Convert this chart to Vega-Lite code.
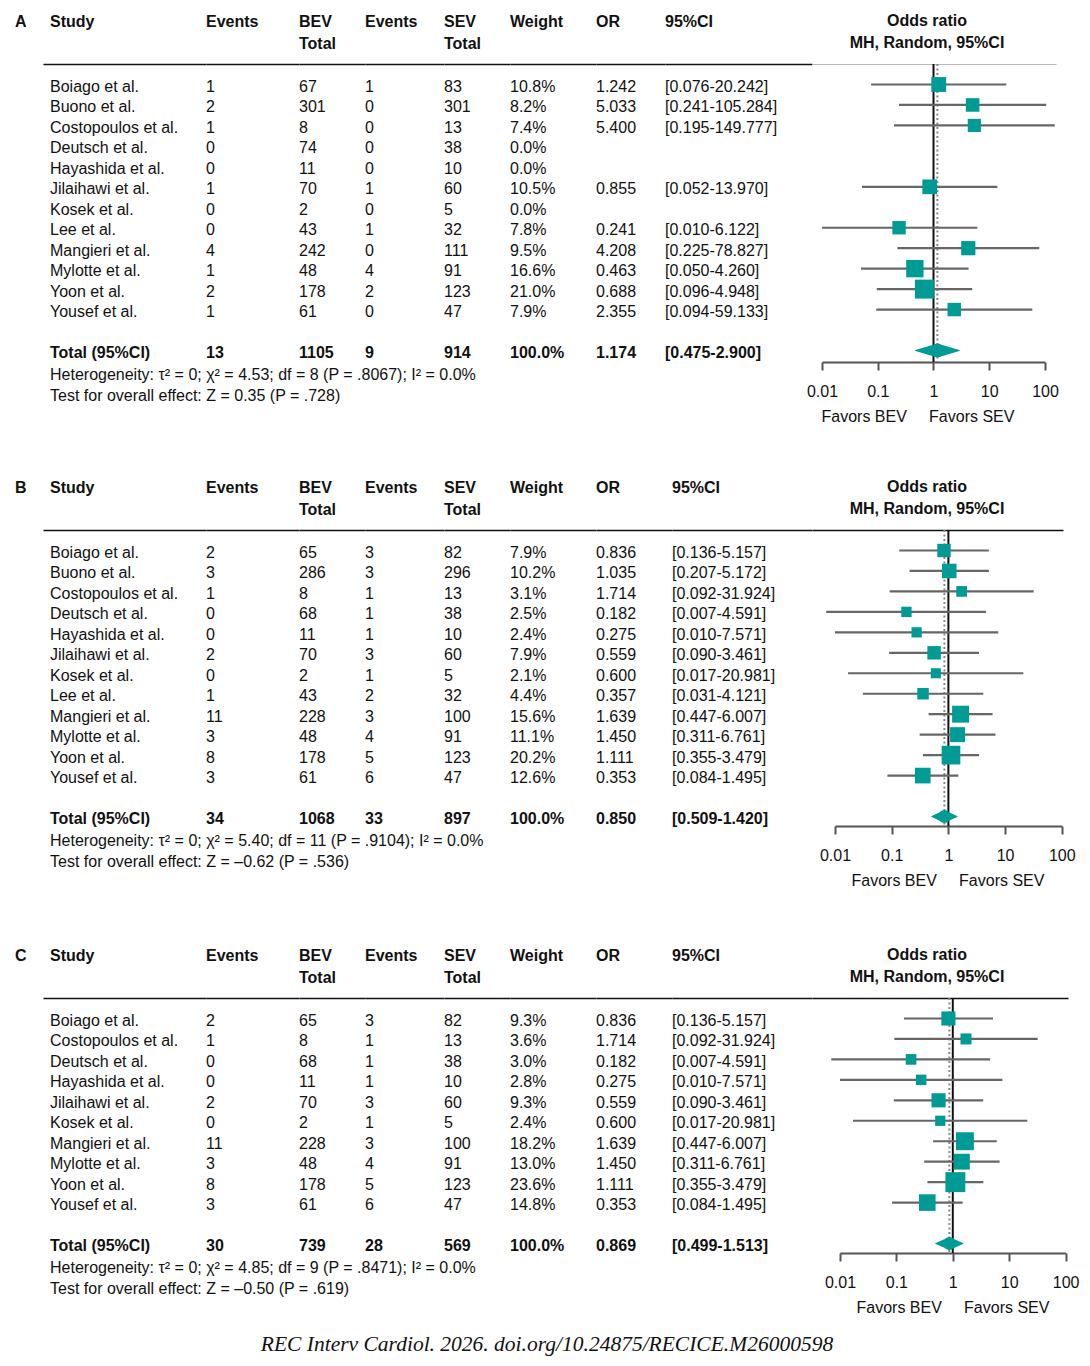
{
"$schema": "https://vega.github.io/schema/vega-lite/v6.json",
"padding": {"left": 15, "top": 13, "right": 5, "bottom": 5},
"background": "white",
"title": {"text": "REC Interv Cardiol. 2026. doi.org/10.24875/RECICE.M26000598", "orient": "bottom", "anchor": "middle", "frame": "bounds", "baseline": "top", "offset": 19, "font": "Liberation Serif", "fontStyle": "italic", "fontWeight": "normal", "fontSize": 21.5, "color": "#111"},
"spacing": 55,
"datasets": {
"A": [
{"row":"Boiago et al.","label":"Boiago et al.","type":"study","e1":1,"n1":67,"e2":1,"n2":83,"w":0.108,"or":1.242,"lo":0.076,"hi":20.242,"ci":"[0.076-20.242]"},
{"row":"Buono et al.","label":"Buono et al.","type":"study","e1":2,"n1":301,"e2":0,"n2":301,"w":0.082,"or":5.033,"lo":0.241,"hi":105.284,"ci":"[0.241-105.284]"},
{"row":"Costopoulos et al.","label":"Costopoulos et al.","type":"study","e1":1,"n1":8,"e2":0,"n2":13,"w":0.074,"or":5.4,"lo":0.195,"hi":149.777,"ci":"[0.195-149.777]"},
{"row":"Deutsch et al.","label":"Deutsch et al.","type":"study","e1":0,"n1":74,"e2":0,"n2":38,"w":0},
{"row":"Hayashida et al.","label":"Hayashida et al.","type":"study","e1":0,"n1":11,"e2":0,"n2":10,"w":0},
{"row":"Jilaihawi et al.","label":"Jilaihawi et al.","type":"study","e1":1,"n1":70,"e2":1,"n2":60,"w":0.105,"or":0.855,"lo":0.052,"hi":13.97,"ci":"[0.052-13.970]"},
{"row":"Kosek et al.","label":"Kosek et al.","type":"study","e1":0,"n1":2,"e2":0,"n2":5,"w":0},
{"row":"Lee et al.","label":"Lee et al.","type":"study","e1":0,"n1":43,"e2":1,"n2":32,"w":0.078,"or":0.241,"lo":0.01,"hi":6.122,"ci":"[0.010-6.122]"},
{"row":"Mangieri et al.","label":"Mangieri et al.","type":"study","e1":4,"n1":242,"e2":0,"n2":111,"w":0.095,"or":4.208,"lo":0.225,"hi":78.827,"ci":"[0.225-78.827]"},
{"row":"Mylotte et al.","label":"Mylotte et al.","type":"study","e1":1,"n1":48,"e2":4,"n2":91,"w":0.166,"or":0.463,"lo":0.05,"hi":4.26,"ci":"[0.050-4.260]"},
{"row":"Yoon et al.","label":"Yoon et al.","type":"study","e1":2,"n1":178,"e2":2,"n2":123,"w":0.21,"or":0.688,"lo":0.096,"hi":4.948,"ci":"[0.096-4.948]"},
{"row":"Yousef et al.","label":"Yousef et al.","type":"study","e1":1,"n1":61,"e2":0,"n2":47,"w":0.079,"or":2.355,"lo":0.094,"hi":59.133,"ci":"[0.094-59.133]"},
{"row":"Total (95%CI)","label":"Total (95%CI)","type":"total","e1":13,"n1":1105,"e2":9,"n2":914,"w":1,"or":1.174,"lo":0.475,"hi":2.9,"ci":"[0.475-2.900]"},
{"row":"het","label":"Heterogeneity: τ² = 0; χ² = 4.53; df = 8 (P = .8067); I² = 0.0%","type":"note"},
{"row":"test","label":"Test for overall effect: Z = 0.35 (P = .728)","type":"note"}
],
"B": [
{"row":"Boiago et al.","label":"Boiago et al.","type":"study","e1":2,"n1":65,"e2":3,"n2":82,"w":0.079,"or":0.836,"lo":0.136,"hi":5.157,"ci":"[0.136-5.157]"},
{"row":"Buono et al.","label":"Buono et al.","type":"study","e1":3,"n1":286,"e2":3,"n2":296,"w":0.102,"or":1.035,"lo":0.207,"hi":5.172,"ci":"[0.207-5.172]"},
{"row":"Costopoulos et al.","label":"Costopoulos et al.","type":"study","e1":1,"n1":8,"e2":1,"n2":13,"w":0.031,"or":1.714,"lo":0.092,"hi":31.924,"ci":"[0.092-31.924]"},
{"row":"Deutsch et al.","label":"Deutsch et al.","type":"study","e1":0,"n1":68,"e2":1,"n2":38,"w":0.025,"or":0.182,"lo":0.007,"hi":4.591,"ci":"[0.007-4.591]"},
{"row":"Hayashida et al.","label":"Hayashida et al.","type":"study","e1":0,"n1":11,"e2":1,"n2":10,"w":0.024,"or":0.275,"lo":0.01,"hi":7.571,"ci":"[0.010-7.571]"},
{"row":"Jilaihawi et al.","label":"Jilaihawi et al.","type":"study","e1":2,"n1":70,"e2":3,"n2":60,"w":0.079,"or":0.559,"lo":0.09,"hi":3.461,"ci":"[0.090-3.461]"},
{"row":"Kosek et al.","label":"Kosek et al.","type":"study","e1":0,"n1":2,"e2":1,"n2":5,"w":0.021,"or":0.6,"lo":0.017,"hi":20.981,"ci":"[0.017-20.981]"},
{"row":"Lee et al.","label":"Lee et al.","type":"study","e1":1,"n1":43,"e2":2,"n2":32,"w":0.044,"or":0.357,"lo":0.031,"hi":4.121,"ci":"[0.031-4.121]"},
{"row":"Mangieri et al.","label":"Mangieri et al.","type":"study","e1":11,"n1":228,"e2":3,"n2":100,"w":0.156,"or":1.639,"lo":0.447,"hi":6.007,"ci":"[0.447-6.007]"},
{"row":"Mylotte et al.","label":"Mylotte et al.","type":"study","e1":3,"n1":48,"e2":4,"n2":91,"w":0.111,"or":1.45,"lo":0.311,"hi":6.761,"ci":"[0.311-6.761]"},
{"row":"Yoon et al.","label":"Yoon et al.","type":"study","e1":8,"n1":178,"e2":5,"n2":123,"w":0.202,"or":1.111,"lo":0.355,"hi":3.479,"ci":"[0.355-3.479]"},
{"row":"Yousef et al.","label":"Yousef et al.","type":"study","e1":3,"n1":61,"e2":6,"n2":47,"w":0.126,"or":0.353,"lo":0.084,"hi":1.495,"ci":"[0.084-1.495]"},
{"row":"Total (95%CI)","label":"Total (95%CI)","type":"total","e1":34,"n1":1068,"e2":33,"n2":897,"w":1,"or":0.85,"lo":0.509,"hi":1.42,"ci":"[0.509-1.420]"},
{"row":"het","label":"Heterogeneity: τ² = 0; χ² = 5.40; df = 11 (P = .9104); I² = 0.0%","type":"note"},
{"row":"test","label":"Test for overall effect: Z = –0.62 (P = .536)","type":"note"}
],
"C": [
{"row":"Boiago et al.","label":"Boiago et al.","type":"study","e1":2,"n1":65,"e2":3,"n2":82,"w":0.093,"or":0.836,"lo":0.136,"hi":5.157,"ci":"[0.136-5.157]"},
{"row":"Costopoulos et al.","label":"Costopoulos et al.","type":"study","e1":1,"n1":8,"e2":1,"n2":13,"w":0.036,"or":1.714,"lo":0.092,"hi":31.924,"ci":"[0.092-31.924]"},
{"row":"Deutsch et al.","label":"Deutsch et al.","type":"study","e1":0,"n1":68,"e2":1,"n2":38,"w":0.03,"or":0.182,"lo":0.007,"hi":4.591,"ci":"[0.007-4.591]"},
{"row":"Hayashida et al.","label":"Hayashida et al.","type":"study","e1":0,"n1":11,"e2":1,"n2":10,"w":0.028,"or":0.275,"lo":0.01,"hi":7.571,"ci":"[0.010-7.571]"},
{"row":"Jilaihawi et al.","label":"Jilaihawi et al.","type":"study","e1":2,"n1":70,"e2":3,"n2":60,"w":0.093,"or":0.559,"lo":0.09,"hi":3.461,"ci":"[0.090-3.461]"},
{"row":"Kosek et al.","label":"Kosek et al.","type":"study","e1":0,"n1":2,"e2":1,"n2":5,"w":0.024,"or":0.6,"lo":0.017,"hi":20.981,"ci":"[0.017-20.981]"},
{"row":"Mangieri et al.","label":"Mangieri et al.","type":"study","e1":11,"n1":228,"e2":3,"n2":100,"w":0.182,"or":1.639,"lo":0.447,"hi":6.007,"ci":"[0.447-6.007]"},
{"row":"Mylotte et al.","label":"Mylotte et al.","type":"study","e1":3,"n1":48,"e2":4,"n2":91,"w":0.13,"or":1.45,"lo":0.311,"hi":6.761,"ci":"[0.311-6.761]"},
{"row":"Yoon et al.","label":"Yoon et al.","type":"study","e1":8,"n1":178,"e2":5,"n2":123,"w":0.236,"or":1.111,"lo":0.355,"hi":3.479,"ci":"[0.355-3.479]"},
{"row":"Yousef et al.","label":"Yousef et al.","type":"study","e1":3,"n1":61,"e2":6,"n2":47,"w":0.148,"or":0.353,"lo":0.084,"hi":1.495,"ci":"[0.084-1.495]"},
{"row":"Total (95%CI)","label":"Total (95%CI)","type":"total","e1":30,"n1":739,"e2":28,"n2":569,"w":1,"or":0.869,"lo":0.499,"hi":1.513,"ci":"[0.499-1.513]"},
{"row":"het","label":"Heterogeneity: τ² = 0; χ² = 4.85; df = 9 (P = .8471); I² = 0.0%","type":"note"},
{"row":"test","label":"Test for overall effect: Z = –0.50 (P = .619)","type":"note"}
]
},
"vconcat": [
{
"data": {"name": "A"}, "spacing": 0, "bounds": "flush",
"hconcat": [
{"width": 28, "height": 298, "title": {"text": ["A", " "]}, "data": {"values": [{"t": ""}]}, "mark": "text", "encoding": {"text": {"field": "t", "type": "nominal"}}},
{"width": 163, "height": 298, "title": {"text": ["Study", " "], "dx": 7},
 "encoding": {"x": {"datum": 0, "type": "quantitative", "scale": {"domain": [0, 1]}, "axis": {"orient": "top", "title": null}}, "y": {"field": "row", "type": "nominal", "scale": {"type": "point", "domain": ["Boiago et al.","Buono et al.","Costopoulos et al.","Deutsch et al.","Hayashida et al.","Jilaihawi et al.","Kosek et al.","Lee et al.","Mangieri et al.","Mylotte et al.","Yoon et al.","Yousef et al.","gap","Total (95%CI)"], "range": [23, 289], "padding": 0}, "axis": null}, "text": {"field": "label", "type": "nominal"}},
 "layer": [
  {"transform": [{"filter": "datum.type === 'study'"}], "mark": {"type": "text", "align": "left", "dx": 7}},
  {"transform": [{"filter": "datum.type === 'total'"}], "mark": {"type": "text", "align": "left", "dx": 7, "fontWeight": "bold"}},
  {"transform": [{"filter": "datum.type === 'note'"}], "mark": {"type": "text", "align": "left", "dx": 7}, "encoding": {"y": {"field": "row", "type": "nominal", "scale": {"type": "point", "domain": ["het", "test"], "range": [311, 332], "padding": 0}, "axis": null}}}
 ],
 "resolve": {"scale": {"y": "independent"}}},
{"width": 93, "height": 298, "title": {"text": ["Events", " "]},
 "encoding": {"x": {"datum": 0, "type": "quantitative", "scale": {"domain": [0, 1]}, "axis": {"orient": "top", "title": null}}, "y": {"field": "row", "type": "nominal", "scale": {"type": "point", "domain": ["Boiago et al.","Buono et al.","Costopoulos et al.","Deutsch et al.","Hayashida et al.","Jilaihawi et al.","Kosek et al.","Lee et al.","Mangieri et al.","Mylotte et al.","Yoon et al.","Yousef et al.","gap","Total (95%CI)"], "range": [23, 289], "padding": 0}, "axis": null}, "text": {"field": "e1", "type": "nominal"}},
 "layer": [
  {"transform": [{"filter": "datum.type === 'study'"}], "mark": {"type": "text", "align": "left"}},
  {"transform": [{"filter": "datum.type === 'total'"}], "mark": {"type": "text", "align": "left", "fontWeight": "bold"}}
 ]},
{"width": 66, "height": 298, "title": {"text": ["BEV", "Total"]},
 "encoding": {"x": {"datum": 0, "type": "quantitative", "scale": {"domain": [0, 1]}, "axis": {"orient": "top", "title": null}}, "y": {"field": "row", "type": "nominal", "scale": {"type": "point", "domain": ["Boiago et al.","Buono et al.","Costopoulos et al.","Deutsch et al.","Hayashida et al.","Jilaihawi et al.","Kosek et al.","Lee et al.","Mangieri et al.","Mylotte et al.","Yoon et al.","Yousef et al.","gap","Total (95%CI)"], "range": [23, 289], "padding": 0}, "axis": null}, "text": {"field": "n1", "type": "nominal"}},
 "layer": [
  {"transform": [{"filter": "datum.type === 'study'"}], "mark": {"type": "text", "align": "left"}},
  {"transform": [{"filter": "datum.type === 'total'"}], "mark": {"type": "text", "align": "left", "fontWeight": "bold"}}
 ]},
{"width": 79, "height": 298, "title": {"text": ["Events", " "]},
 "encoding": {"x": {"datum": 0, "type": "quantitative", "scale": {"domain": [0, 1]}, "axis": {"orient": "top", "title": null}}, "y": {"field": "row", "type": "nominal", "scale": {"type": "point", "domain": ["Boiago et al.","Buono et al.","Costopoulos et al.","Deutsch et al.","Hayashida et al.","Jilaihawi et al.","Kosek et al.","Lee et al.","Mangieri et al.","Mylotte et al.","Yoon et al.","Yousef et al.","gap","Total (95%CI)"], "range": [23, 289], "padding": 0}, "axis": null}, "text": {"field": "e2", "type": "nominal"}},
 "layer": [
  {"transform": [{"filter": "datum.type === 'study'"}], "mark": {"type": "text", "align": "left"}},
  {"transform": [{"filter": "datum.type === 'total'"}], "mark": {"type": "text", "align": "left", "fontWeight": "bold"}}
 ]},
{"width": 66, "height": 298, "title": {"text": ["SEV", "Total"]},
 "encoding": {"x": {"datum": 0, "type": "quantitative", "scale": {"domain": [0, 1]}, "axis": {"orient": "top", "title": null}}, "y": {"field": "row", "type": "nominal", "scale": {"type": "point", "domain": ["Boiago et al.","Buono et al.","Costopoulos et al.","Deutsch et al.","Hayashida et al.","Jilaihawi et al.","Kosek et al.","Lee et al.","Mangieri et al.","Mylotte et al.","Yoon et al.","Yousef et al.","gap","Total (95%CI)"], "range": [23, 289], "padding": 0}, "axis": null}, "text": {"field": "n2", "type": "nominal"}},
 "layer": [
  {"transform": [{"filter": "datum.type === 'study'"}], "mark": {"type": "text", "align": "left"}},
  {"transform": [{"filter": "datum.type === 'total'"}], "mark": {"type": "text", "align": "left", "fontWeight": "bold"}}
 ]},
{"width": 86, "height": 298, "title": {"text": ["Weight", " "]},
 "encoding": {"x": {"datum": 0, "type": "quantitative", "scale": {"domain": [0, 1]}, "axis": {"orient": "top", "title": null}}, "y": {"field": "row", "type": "nominal", "scale": {"type": "point", "domain": ["Boiago et al.","Buono et al.","Costopoulos et al.","Deutsch et al.","Hayashida et al.","Jilaihawi et al.","Kosek et al.","Lee et al.","Mangieri et al.","Mylotte et al.","Yoon et al.","Yousef et al.","gap","Total (95%CI)"], "range": [23, 289], "padding": 0}, "axis": null}, "text": {"field": "w", "type": "quantitative", "format": ".1%"}},
 "layer": [
  {"transform": [{"filter": "datum.type === 'study'"}], "mark": {"type": "text", "align": "left"}},
  {"transform": [{"filter": "datum.type === 'total'"}], "mark": {"type": "text", "align": "left", "fontWeight": "bold"}}
 ]},
{"width": 69, "height": 298, "title": {"text": ["OR", " "]},
 "encoding": {"x": {"datum": 0, "type": "quantitative", "scale": {"domain": [0, 1]}, "axis": {"orient": "top", "title": null}}, "y": {"field": "row", "type": "nominal", "scale": {"type": "point", "domain": ["Boiago et al.","Buono et al.","Costopoulos et al.","Deutsch et al.","Hayashida et al.","Jilaihawi et al.","Kosek et al.","Lee et al.","Mangieri et al.","Mylotte et al.","Yoon et al.","Yousef et al.","gap","Total (95%CI)"], "range": [23, 289], "padding": 0}, "axis": null}, "text": {"field": "or", "type": "quantitative", "format": ".3f"}},
 "layer": [
  {"transform": [{"filter": "datum.type === 'study' && isValid(datum.or)"}], "mark": {"type": "text", "align": "left"}},
  {"transform": [{"filter": "datum.type === 'total'"}], "mark": {"type": "text", "align": "left", "fontWeight": "bold"}}
 ]},
{"width": 147, "height": 298, "title": {"text": ["95%CI", " "]},
 "encoding": {"x": {"datum": 0, "type": "quantitative", "scale": {"domain": [0, 1]}, "axis": {"orient": "top", "title": null}}, "y": {"field": "row", "type": "nominal", "scale": {"type": "point", "domain": ["Boiago et al.","Buono et al.","Costopoulos et al.","Deutsch et al.","Hayashida et al.","Jilaihawi et al.","Kosek et al.","Lee et al.","Mangieri et al.","Mylotte et al.","Yoon et al.","Yousef et al.","gap","Total (95%CI)"], "range": [23, 289], "padding": 0}, "axis": null}, "text": {"field": "ci", "type": "nominal"}},
 "layer": [
  {"transform": [{"filter": "datum.type === 'study' && isValid(datum.ci)"}], "mark": {"type": "text", "align": "left"}},
  {"transform": [{"filter": "datum.type === 'total'"}], "mark": {"type": "text", "align": "left", "fontWeight": "bold"}}
 ]},
{"width": 256, "height": 298, "title": {"text": ["Odds ratio", "MH, Random, 95%CI"], "anchor": "middle", "dx": -13},
 "layer": [
  {"transform": [{"filter": "datum.type === 'total'"}], "mark": {"type": "rule", "color": "#111", "strokeWidth": 2},
   "encoding": {"x": {"datum": 1, "type": "quantitative", "scale": {"type": "log", "domain": [0.0066155, 157.5], "range": [0, 244], "nice": false}, "axis": {"orient": "top", "title": null, "domainColor": "#bbbbbb", "domainWidth": 1}}}},
  {"layer": [
   {"transform": [{"filter": "datum.type === 'total'"}], "mark": {"type": "rule", "color": "#888", "strokeWidth": 2, "strokeDash": [2, 2.5]},
    "encoding": {"x": {"field": "or", "type": "quantitative", "scale": {"type": "log", "domain": [0.01, 100], "range": [10, 233], "nice": false}, "axis": {"orient": "bottom", "values": [0.01, 0.1, 1, 10, 100], "format": "~g", "title": "Favors BEV\u00a0\u00a0\u00a0\u00a0\u00a0Favors SEV", "titleX": 9}}}},
   {"transform": [{"filter": "datum.type === 'study' && isValid(datum.or)"}], "mark": {"type": "rule", "color": "#666", "strokeWidth": 2.2},
    "encoding": {"x": {"field": "lo", "type": "quantitative"}, "x2": {"field": "hi"}, "y": {"field": "row", "type": "nominal", "scale": {"type": "point", "domain": ["Boiago et al.","Buono et al.","Costopoulos et al.","Deutsch et al.","Hayashida et al.","Jilaihawi et al.","Kosek et al.","Lee et al.","Mangieri et al.","Mylotte et al.","Yoon et al.","Yousef et al.","gap","Total (95%CI)"], "range": [20.5, 286.5], "padding": 0}, "axis": null}}},
   {"transform": [{"filter": "datum.type === 'study' && isValid(datum.or)"}], "mark": {"type": "point", "shape": "square", "filled": true, "opacity": 1, "color": "#009b95"},
    "encoding": {"x": {"field": "or", "type": "quantitative"}, "y": {"field": "row", "type": "nominal", "scale": {"type": "point", "domain": ["Boiago et al.","Buono et al.","Costopoulos et al.","Deutsch et al.","Hayashida et al.","Jilaihawi et al.","Kosek et al.","Lee et al.","Mangieri et al.","Mylotte et al.","Yoon et al.","Yousef et al.","gap","Total (95%CI)"], "range": [20.5, 286.5], "padding": 0}, "axis": null}, "size": {"field": "w", "type": "quantitative", "scale": {"domain": [0, 0.25], "range": [72, 415]}, "legend": null}}},
   {"transform": [{"filter": "datum.type === 'total'"}, {"fold": ["lo", "or", "hi"], "as": ["k", "v"]}], "mark": {"type": "trail", "color": "#009b95"},
    "encoding": {"x": {"field": "v", "type": "quantitative"}, "y": {"field": "row", "type": "nominal", "scale": {"type": "point", "domain": ["Boiago et al.","Buono et al.","Costopoulos et al.","Deutsch et al.","Hayashida et al.","Jilaihawi et al.","Kosek et al.","Lee et al.","Mangieri et al.","Mylotte et al.","Yoon et al.","Yousef et al.","gap","Total (95%CI)"], "range": [20.5, 286.5], "padding": 0}, "axis": null}, "size": {"condition": {"test": "datum.k === 'or'", "value": 14}, "value": 0}}}
  ]}
 ],
 "resolve": {"scale": {"x": "independent"}}}
]
},
{
"spacing": 59,
"vconcat": [
{
"data": {"name": "B"}, "spacing": 0, "bounds": "flush",
"hconcat": [
{"width": 28, "height": 296, "title": {"text": ["B", " "]}, "data": {"values": [{"t": ""}]}, "mark": "text", "encoding": {"text": {"field": "t", "type": "nominal"}}},
{"width": 163, "height": 296, "title": {"text": ["Study", " "], "dx": 7},
 "encoding": {"x": {"datum": 0, "type": "quantitative", "scale": {"domain": [0, 1]}, "axis": {"orient": "top", "title": null}}, "y": {"field": "row", "type": "nominal", "scale": {"type": "point", "domain": ["Boiago et al.","Buono et al.","Costopoulos et al.","Deutsch et al.","Hayashida et al.","Jilaihawi et al.","Kosek et al.","Lee et al.","Mangieri et al.","Mylotte et al.","Yoon et al.","Yousef et al.","gap","Total (95%CI)"], "range": [23, 289], "padding": 0}, "axis": null}, "text": {"field": "label", "type": "nominal"}},
 "layer": [
  {"transform": [{"filter": "datum.type === 'study'"}], "mark": {"type": "text", "align": "left", "dx": 7}},
  {"transform": [{"filter": "datum.type === 'total'"}], "mark": {"type": "text", "align": "left", "dx": 7, "fontWeight": "bold"}},
  {"transform": [{"filter": "datum.type === 'note'"}], "mark": {"type": "text", "align": "left", "dx": 7}, "encoding": {"y": {"field": "row", "type": "nominal", "scale": {"type": "point", "domain": ["het", "test"], "range": [311, 332], "padding": 0}, "axis": null}}}
 ],
 "resolve": {"scale": {"y": "independent"}}},
{"width": 93, "height": 296, "title": {"text": ["Events", " "]},
 "encoding": {"x": {"datum": 0, "type": "quantitative", "scale": {"domain": [0, 1]}, "axis": {"orient": "top", "title": null}}, "y": {"field": "row", "type": "nominal", "scale": {"type": "point", "domain": ["Boiago et al.","Buono et al.","Costopoulos et al.","Deutsch et al.","Hayashida et al.","Jilaihawi et al.","Kosek et al.","Lee et al.","Mangieri et al.","Mylotte et al.","Yoon et al.","Yousef et al.","gap","Total (95%CI)"], "range": [23, 289], "padding": 0}, "axis": null}, "text": {"field": "e1", "type": "nominal"}},
 "layer": [
  {"transform": [{"filter": "datum.type === 'study'"}], "mark": {"type": "text", "align": "left"}},
  {"transform": [{"filter": "datum.type === 'total'"}], "mark": {"type": "text", "align": "left", "fontWeight": "bold"}}
 ]},
{"width": 66, "height": 296, "title": {"text": ["BEV", "Total"]},
 "encoding": {"x": {"datum": 0, "type": "quantitative", "scale": {"domain": [0, 1]}, "axis": {"orient": "top", "title": null}}, "y": {"field": "row", "type": "nominal", "scale": {"type": "point", "domain": ["Boiago et al.","Buono et al.","Costopoulos et al.","Deutsch et al.","Hayashida et al.","Jilaihawi et al.","Kosek et al.","Lee et al.","Mangieri et al.","Mylotte et al.","Yoon et al.","Yousef et al.","gap","Total (95%CI)"], "range": [23, 289], "padding": 0}, "axis": null}, "text": {"field": "n1", "type": "nominal"}},
 "layer": [
  {"transform": [{"filter": "datum.type === 'study'"}], "mark": {"type": "text", "align": "left"}},
  {"transform": [{"filter": "datum.type === 'total'"}], "mark": {"type": "text", "align": "left", "fontWeight": "bold"}}
 ]},
{"width": 79, "height": 296, "title": {"text": ["Events", " "]},
 "encoding": {"x": {"datum": 0, "type": "quantitative", "scale": {"domain": [0, 1]}, "axis": {"orient": "top", "title": null}}, "y": {"field": "row", "type": "nominal", "scale": {"type": "point", "domain": ["Boiago et al.","Buono et al.","Costopoulos et al.","Deutsch et al.","Hayashida et al.","Jilaihawi et al.","Kosek et al.","Lee et al.","Mangieri et al.","Mylotte et al.","Yoon et al.","Yousef et al.","gap","Total (95%CI)"], "range": [23, 289], "padding": 0}, "axis": null}, "text": {"field": "e2", "type": "nominal"}},
 "layer": [
  {"transform": [{"filter": "datum.type === 'study'"}], "mark": {"type": "text", "align": "left"}},
  {"transform": [{"filter": "datum.type === 'total'"}], "mark": {"type": "text", "align": "left", "fontWeight": "bold"}}
 ]},
{"width": 66, "height": 296, "title": {"text": ["SEV", "Total"]},
 "encoding": {"x": {"datum": 0, "type": "quantitative", "scale": {"domain": [0, 1]}, "axis": {"orient": "top", "title": null}}, "y": {"field": "row", "type": "nominal", "scale": {"type": "point", "domain": ["Boiago et al.","Buono et al.","Costopoulos et al.","Deutsch et al.","Hayashida et al.","Jilaihawi et al.","Kosek et al.","Lee et al.","Mangieri et al.","Mylotte et al.","Yoon et al.","Yousef et al.","gap","Total (95%CI)"], "range": [23, 289], "padding": 0}, "axis": null}, "text": {"field": "n2", "type": "nominal"}},
 "layer": [
  {"transform": [{"filter": "datum.type === 'study'"}], "mark": {"type": "text", "align": "left"}},
  {"transform": [{"filter": "datum.type === 'total'"}], "mark": {"type": "text", "align": "left", "fontWeight": "bold"}}
 ]},
{"width": 86, "height": 296, "title": {"text": ["Weight", " "]},
 "encoding": {"x": {"datum": 0, "type": "quantitative", "scale": {"domain": [0, 1]}, "axis": {"orient": "top", "title": null}}, "y": {"field": "row", "type": "nominal", "scale": {"type": "point", "domain": ["Boiago et al.","Buono et al.","Costopoulos et al.","Deutsch et al.","Hayashida et al.","Jilaihawi et al.","Kosek et al.","Lee et al.","Mangieri et al.","Mylotte et al.","Yoon et al.","Yousef et al.","gap","Total (95%CI)"], "range": [23, 289], "padding": 0}, "axis": null}, "text": {"field": "w", "type": "quantitative", "format": ".1%"}},
 "layer": [
  {"transform": [{"filter": "datum.type === 'study'"}], "mark": {"type": "text", "align": "left"}},
  {"transform": [{"filter": "datum.type === 'total'"}], "mark": {"type": "text", "align": "left", "fontWeight": "bold"}}
 ]},
{"width": 76, "height": 296, "title": {"text": ["OR", " "]},
 "encoding": {"x": {"datum": 0, "type": "quantitative", "scale": {"domain": [0, 1]}, "axis": {"orient": "top", "title": null}}, "y": {"field": "row", "type": "nominal", "scale": {"type": "point", "domain": ["Boiago et al.","Buono et al.","Costopoulos et al.","Deutsch et al.","Hayashida et al.","Jilaihawi et al.","Kosek et al.","Lee et al.","Mangieri et al.","Mylotte et al.","Yoon et al.","Yousef et al.","gap","Total (95%CI)"], "range": [23, 289], "padding": 0}, "axis": null}, "text": {"field": "or", "type": "quantitative", "format": ".3f"}},
 "layer": [
  {"transform": [{"filter": "datum.type === 'study' && isValid(datum.or)"}], "mark": {"type": "text", "align": "left"}},
  {"transform": [{"filter": "datum.type === 'total'"}], "mark": {"type": "text", "align": "left", "fontWeight": "bold"}}
 ]},
{"width": 140, "height": 296, "title": {"text": ["95%CI", " "]},
 "encoding": {"x": {"datum": 0, "type": "quantitative", "scale": {"domain": [0, 1]}, "axis": {"orient": "top", "title": null}}, "y": {"field": "row", "type": "nominal", "scale": {"type": "point", "domain": ["Boiago et al.","Buono et al.","Costopoulos et al.","Deutsch et al.","Hayashida et al.","Jilaihawi et al.","Kosek et al.","Lee et al.","Mangieri et al.","Mylotte et al.","Yoon et al.","Yousef et al.","gap","Total (95%CI)"], "range": [23, 289], "padding": 0}, "axis": null}, "text": {"field": "ci", "type": "nominal"}},
 "layer": [
  {"transform": [{"filter": "datum.type === 'study' && isValid(datum.ci)"}], "mark": {"type": "text", "align": "left"}},
  {"transform": [{"filter": "datum.type === 'total'"}], "mark": {"type": "text", "align": "left", "fontWeight": "bold"}}
 ]},
{"width": 256, "height": 296, "title": {"text": ["Odds ratio", "MH, Random, 95%CI"], "anchor": "middle", "dx": -13},
 "layer": [
  {"transform": [{"filter": "datum.type === 'total'"}], "mark": {"type": "rule", "color": "#111", "strokeWidth": 2},
   "encoding": {"x": {"datum": 1, "type": "quantitative", "scale": {"type": "log", "domain": [0.00393, 105.0], "range": [0, 251], "nice": false}, "axis": {"orient": "top", "title": null}}}},
  {"layer": [
   {"transform": [{"filter": "datum.type === 'total'"}], "mark": {"type": "rule", "color": "#888", "strokeWidth": 2, "strokeDash": [2, 2.5]},
    "encoding": {"x": {"field": "or", "type": "quantitative", "scale": {"type": "log", "domain": [0.01, 100], "range": [23, 249.8], "nice": false}, "axis": {"orient": "bottom", "values": [0.01, 0.1, 1, 10, 100], "format": "~g", "title": "Favors BEV\u00a0\u00a0\u00a0\u00a0\u00a0Favors SEV", "titleX": 39}}}},
   {"transform": [{"filter": "datum.type === 'study' && isValid(datum.or)"}], "mark": {"type": "rule", "color": "#666", "strokeWidth": 2.2},
    "encoding": {"x": {"field": "lo", "type": "quantitative"}, "x2": {"field": "hi"}, "y": {"field": "row", "type": "nominal", "scale": {"type": "point", "domain": ["Boiago et al.","Buono et al.","Costopoulos et al.","Deutsch et al.","Hayashida et al.","Jilaihawi et al.","Kosek et al.","Lee et al.","Mangieri et al.","Mylotte et al.","Yoon et al.","Yousef et al.","gap","Total (95%CI)"], "range": [20.5, 286.5], "padding": 0}, "axis": null}}},
   {"transform": [{"filter": "datum.type === 'study' && isValid(datum.or)"}], "mark": {"type": "point", "shape": "square", "filled": true, "opacity": 1, "color": "#009b95"},
    "encoding": {"x": {"field": "or", "type": "quantitative"}, "y": {"field": "row", "type": "nominal", "scale": {"type": "point", "domain": ["Boiago et al.","Buono et al.","Costopoulos et al.","Deutsch et al.","Hayashida et al.","Jilaihawi et al.","Kosek et al.","Lee et al.","Mangieri et al.","Mylotte et al.","Yoon et al.","Yousef et al.","gap","Total (95%CI)"], "range": [20.5, 286.5], "padding": 0}, "axis": null}, "size": {"field": "w", "type": "quantitative", "scale": {"domain": [0, 0.25], "range": [72, 415]}, "legend": null}}},
   {"transform": [{"filter": "datum.type === 'total'"}, {"fold": ["lo", "or", "hi"], "as": ["k", "v"]}], "mark": {"type": "trail", "color": "#009b95"},
    "encoding": {"x": {"field": "v", "type": "quantitative"}, "y": {"field": "row", "type": "nominal", "scale": {"type": "point", "domain": ["Boiago et al.","Buono et al.","Costopoulos et al.","Deutsch et al.","Hayashida et al.","Jilaihawi et al.","Kosek et al.","Lee et al.","Mangieri et al.","Mylotte et al.","Yoon et al.","Yousef et al.","gap","Total (95%CI)"], "range": [20.5, 286.5], "padding": 0}, "axis": null}, "size": {"condition": {"test": "datum.k === 'or'", "value": 13}, "value": 0}}}
  ]}
 ],
 "resolve": {"scale": {"x": "independent"}}}
]
},
{
"data": {"name": "C"}, "spacing": 0, "bounds": "flush",
"hconcat": [
{"width": 28, "height": 255, "title": {"text": ["C", " "]}, "data": {"values": [{"t": ""}]}, "mark": "text", "encoding": {"text": {"field": "t", "type": "nominal"}}},
{"width": 163, "height": 255, "title": {"text": ["Study", " "], "dx": 7},
 "encoding": {"x": {"datum": 0, "type": "quantitative", "scale": {"domain": [0, 1]}, "axis": {"orient": "top", "title": null}}, "y": {"field": "row", "type": "nominal", "scale": {"type": "point", "domain": ["Boiago et al.","Costopoulos et al.","Deutsch et al.","Hayashida et al.","Jilaihawi et al.","Kosek et al.","Mangieri et al.","Mylotte et al.","Yoon et al.","Yousef et al.","gap","Total (95%CI)"], "range": [23, 248], "padding": 0}, "axis": null}, "text": {"field": "label", "type": "nominal"}},
 "layer": [
  {"transform": [{"filter": "datum.type === 'study'"}], "mark": {"type": "text", "align": "left", "dx": 7}},
  {"transform": [{"filter": "datum.type === 'total'"}], "mark": {"type": "text", "align": "left", "dx": 7, "fontWeight": "bold"}},
  {"transform": [{"filter": "datum.type === 'note'"}], "mark": {"type": "text", "align": "left", "dx": 7}, "encoding": {"y": {"field": "row", "type": "nominal", "scale": {"type": "point", "domain": ["het", "test"], "range": [270, 291], "padding": 0}, "axis": null}}}
 ],
 "resolve": {"scale": {"y": "independent"}}},
{"width": 93, "height": 255, "title": {"text": ["Events", " "]},
 "encoding": {"x": {"datum": 0, "type": "quantitative", "scale": {"domain": [0, 1]}, "axis": {"orient": "top", "title": null}}, "y": {"field": "row", "type": "nominal", "scale": {"type": "point", "domain": ["Boiago et al.","Costopoulos et al.","Deutsch et al.","Hayashida et al.","Jilaihawi et al.","Kosek et al.","Mangieri et al.","Mylotte et al.","Yoon et al.","Yousef et al.","gap","Total (95%CI)"], "range": [23, 248], "padding": 0}, "axis": null}, "text": {"field": "e1", "type": "nominal"}},
 "layer": [
  {"transform": [{"filter": "datum.type === 'study'"}], "mark": {"type": "text", "align": "left"}},
  {"transform": [{"filter": "datum.type === 'total'"}], "mark": {"type": "text", "align": "left", "fontWeight": "bold"}}
 ]},
{"width": 66, "height": 255, "title": {"text": ["BEV", "Total"]},
 "encoding": {"x": {"datum": 0, "type": "quantitative", "scale": {"domain": [0, 1]}, "axis": {"orient": "top", "title": null}}, "y": {"field": "row", "type": "nominal", "scale": {"type": "point", "domain": ["Boiago et al.","Costopoulos et al.","Deutsch et al.","Hayashida et al.","Jilaihawi et al.","Kosek et al.","Mangieri et al.","Mylotte et al.","Yoon et al.","Yousef et al.","gap","Total (95%CI)"], "range": [23, 248], "padding": 0}, "axis": null}, "text": {"field": "n1", "type": "nominal"}},
 "layer": [
  {"transform": [{"filter": "datum.type === 'study'"}], "mark": {"type": "text", "align": "left"}},
  {"transform": [{"filter": "datum.type === 'total'"}], "mark": {"type": "text", "align": "left", "fontWeight": "bold"}}
 ]},
{"width": 79, "height": 255, "title": {"text": ["Events", " "]},
 "encoding": {"x": {"datum": 0, "type": "quantitative", "scale": {"domain": [0, 1]}, "axis": {"orient": "top", "title": null}}, "y": {"field": "row", "type": "nominal", "scale": {"type": "point", "domain": ["Boiago et al.","Costopoulos et al.","Deutsch et al.","Hayashida et al.","Jilaihawi et al.","Kosek et al.","Mangieri et al.","Mylotte et al.","Yoon et al.","Yousef et al.","gap","Total (95%CI)"], "range": [23, 248], "padding": 0}, "axis": null}, "text": {"field": "e2", "type": "nominal"}},
 "layer": [
  {"transform": [{"filter": "datum.type === 'study'"}], "mark": {"type": "text", "align": "left"}},
  {"transform": [{"filter": "datum.type === 'total'"}], "mark": {"type": "text", "align": "left", "fontWeight": "bold"}}
 ]},
{"width": 66, "height": 255, "title": {"text": ["SEV", "Total"]},
 "encoding": {"x": {"datum": 0, "type": "quantitative", "scale": {"domain": [0, 1]}, "axis": {"orient": "top", "title": null}}, "y": {"field": "row", "type": "nominal", "scale": {"type": "point", "domain": ["Boiago et al.","Costopoulos et al.","Deutsch et al.","Hayashida et al.","Jilaihawi et al.","Kosek et al.","Mangieri et al.","Mylotte et al.","Yoon et al.","Yousef et al.","gap","Total (95%CI)"], "range": [23, 248], "padding": 0}, "axis": null}, "text": {"field": "n2", "type": "nominal"}},
 "layer": [
  {"transform": [{"filter": "datum.type === 'study'"}], "mark": {"type": "text", "align": "left"}},
  {"transform": [{"filter": "datum.type === 'total'"}], "mark": {"type": "text", "align": "left", "fontWeight": "bold"}}
 ]},
{"width": 86, "height": 255, "title": {"text": ["Weight", " "]},
 "encoding": {"x": {"datum": 0, "type": "quantitative", "scale": {"domain": [0, 1]}, "axis": {"orient": "top", "title": null}}, "y": {"field": "row", "type": "nominal", "scale": {"type": "point", "domain": ["Boiago et al.","Costopoulos et al.","Deutsch et al.","Hayashida et al.","Jilaihawi et al.","Kosek et al.","Mangieri et al.","Mylotte et al.","Yoon et al.","Yousef et al.","gap","Total (95%CI)"], "range": [23, 248], "padding": 0}, "axis": null}, "text": {"field": "w", "type": "quantitative", "format": ".1%"}},
 "layer": [
  {"transform": [{"filter": "datum.type === 'study'"}], "mark": {"type": "text", "align": "left"}},
  {"transform": [{"filter": "datum.type === 'total'"}], "mark": {"type": "text", "align": "left", "fontWeight": "bold"}}
 ]},
{"width": 76, "height": 255, "title": {"text": ["OR", " "]},
 "encoding": {"x": {"datum": 0, "type": "quantitative", "scale": {"domain": [0, 1]}, "axis": {"orient": "top", "title": null}}, "y": {"field": "row", "type": "nominal", "scale": {"type": "point", "domain": ["Boiago et al.","Costopoulos et al.","Deutsch et al.","Hayashida et al.","Jilaihawi et al.","Kosek et al.","Mangieri et al.","Mylotte et al.","Yoon et al.","Yousef et al.","gap","Total (95%CI)"], "range": [23, 248], "padding": 0}, "axis": null}, "text": {"field": "or", "type": "quantitative", "format": ".3f"}},
 "layer": [
  {"transform": [{"filter": "datum.type === 'study' && isValid(datum.or)"}], "mark": {"type": "text", "align": "left"}},
  {"transform": [{"filter": "datum.type === 'total'"}], "mark": {"type": "text", "align": "left", "fontWeight": "bold"}}
 ]},
{"width": 140, "height": 255, "title": {"text": ["95%CI", " "]},
 "encoding": {"x": {"datum": 0, "type": "quantitative", "scale": {"domain": [0, 1]}, "axis": {"orient": "top", "title": null}}, "y": {"field": "row", "type": "nominal", "scale": {"type": "point", "domain": ["Boiago et al.","Costopoulos et al.","Deutsch et al.","Hayashida et al.","Jilaihawi et al.","Kosek et al.","Mangieri et al.","Mylotte et al.","Yoon et al.","Yousef et al.","gap","Total (95%CI)"], "range": [23, 248], "padding": 0}, "axis": null}, "text": {"field": "ci", "type": "nominal"}},
 "layer": [
  {"transform": [{"filter": "datum.type === 'study' && isValid(datum.ci)"}], "mark": {"type": "text", "align": "left"}},
  {"transform": [{"filter": "datum.type === 'total'"}], "mark": {"type": "text", "align": "left", "fontWeight": "bold"}}
 ]},
{"width": 256, "height": 255, "title": {"text": ["Odds ratio", "MH, Random, 95%CI"], "anchor": "middle", "dx": -13},
 "layer": [
  {"transform": [{"filter": "datum.type === 'total'"}], "mark": {"type": "rule", "color": "#111", "strokeWidth": 2},
   "encoding": {"x": {"datum": 1, "type": "quantitative", "scale": {"type": "log", "domain": [0.003189, 110.3], "range": [0, 256], "nice": false}, "axis": {"orient": "top", "title": null}}}},
  {"layer": [
   {"transform": [{"filter": "datum.type === 'total'"}], "mark": {"type": "rule", "color": "#888", "strokeWidth": 2, "strokeDash": [2, 2.5]},
    "encoding": {"x": {"field": "or", "type": "quantitative", "scale": {"type": "log", "domain": [0.01, 100], "range": [28, 253.6], "nice": false}, "axis": {"orient": "bottom", "values": [0.01, 0.1, 1, 10, 100], "format": "~g", "title": "Favors BEV\u00a0\u00a0\u00a0\u00a0\u00a0Favors SEV", "titleX": 44}}}},
   {"transform": [{"filter": "datum.type === 'study' && isValid(datum.or)"}], "mark": {"type": "rule", "color": "#666", "strokeWidth": 2.2},
    "encoding": {"x": {"field": "lo", "type": "quantitative"}, "x2": {"field": "hi"}, "y": {"field": "row", "type": "nominal", "scale": {"type": "point", "domain": ["Boiago et al.","Costopoulos et al.","Deutsch et al.","Hayashida et al.","Jilaihawi et al.","Kosek et al.","Mangieri et al.","Mylotte et al.","Yoon et al.","Yousef et al.","gap","Total (95%CI)"], "range": [20.5, 245.5], "padding": 0}, "axis": null}}},
   {"transform": [{"filter": "datum.type === 'study' && isValid(datum.or)"}], "mark": {"type": "point", "shape": "square", "filled": true, "opacity": 1, "color": "#009b95"},
    "encoding": {"x": {"field": "or", "type": "quantitative"}, "y": {"field": "row", "type": "nominal", "scale": {"type": "point", "domain": ["Boiago et al.","Costopoulos et al.","Deutsch et al.","Hayashida et al.","Jilaihawi et al.","Kosek et al.","Mangieri et al.","Mylotte et al.","Yoon et al.","Yousef et al.","gap","Total (95%CI)"], "range": [20.5, 245.5], "padding": 0}, "axis": null}, "size": {"field": "w", "type": "quantitative", "scale": {"domain": [0, 0.25], "range": [72, 415]}, "legend": null}}},
   {"transform": [{"filter": "datum.type === 'total'"}, {"fold": ["lo", "or", "hi"], "as": ["k", "v"]}], "mark": {"type": "trail", "color": "#009b95"},
    "encoding": {"x": {"field": "v", "type": "quantitative"}, "y": {"field": "row", "type": "nominal", "scale": {"type": "point", "domain": ["Boiago et al.","Costopoulos et al.","Deutsch et al.","Hayashida et al.","Jilaihawi et al.","Kosek et al.","Mangieri et al.","Mylotte et al.","Yoon et al.","Yousef et al.","gap","Total (95%CI)"], "range": [20.5, 245.5], "padding": 0}, "axis": null}, "size": {"condition": {"test": "datum.k === 'or'", "value": 13}, "value": 0}}}
  ]}
 ],
 "resolve": {"scale": {"x": "independent"}}}
]
}
]
}
],
"config": {
 "view": {"stroke": null},
 "font": "Liberation Sans",
 "text": {"font": "Liberation Sans", "fontSize": 16, "color": "#111", "baseline": "middle"},
 "title": {"font": "Liberation Sans", "fontSize": 16, "fontWeight": "bold", "color": "#111", "anchor": "start", "baseline": "bottom", "lineHeight": 22, "offset": 12, "frame": "group"},
 "axisTop": {"domain": true, "domainColor": "#111", "domainWidth": 1.5, "ticks": false, "labels": false, "grid": false},
 "axisBottom": {"domain": true, "domainColor": "#555", "domainWidth": 2, "ticks": true, "tickColor": "#555", "tickWidth": 2, "tickSize": 8, "labelFont": "Liberation Sans", "labelFontSize": 16, "labelColor": "#111", "labelPadding": 13, "labelFlush": false, "grid": false, "titleFont": "Liberation Sans", "titleFontSize": 16, "titleFontWeight": "normal", "titleColor": "#111", "titleAlign": "left", "titlePadding": 9}
}
}
